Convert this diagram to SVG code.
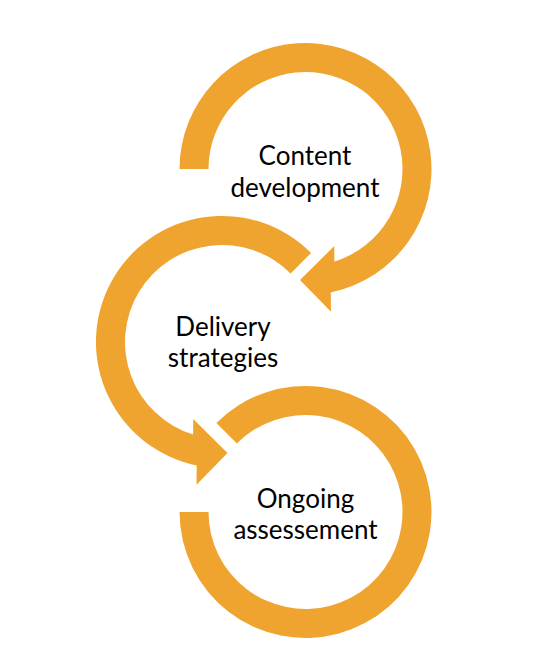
<svg xmlns="http://www.w3.org/2000/svg" width="534" height="670" viewBox="0 0 534 670">
<style>
.arrow{fill:#F0A430;stroke:none}
.label{font-family:Lato,"Liberation Sans",sans-serif;font-size:26px;fill:#000;text-anchor:middle}
</style>
<rect width="534" height="670" fill="#fff"/>
<g id="connectors">
<path id="arrow-content" class="arrow" d="M179.5 169 A126 126 0 1 1 330.8 292.4 L331 311.7 L300 280 L334.3 246 L334.35 261.6 A97 97 0 1 0 208.5 169 Z"/>
<path id="arrow-delivery" class="arrow" d="M311.1 252.9 A126 126 0 1 0 196.7 465.4 L196.5 484.7 L227.5 453 L193.2 419 L193.15 434.6 A97 97 0 1 1 290.6 273.4 Z"/>
<path id="arrow-assessment" class="arrow" d="M216.4 422.9 A126 126 0 1 1 179.5 512 L208.5 512 A97 97 0 1 0 236.9 443.4 Z"/>
</g>
<g id="node-content">
<text class="label" x="305" y="165">Content</text>
<text class="label" x="305" y="196.7">development</text>
</g>
<g id="node-delivery">
<text class="label" x="223" y="336">Delivery</text>
<text class="label" x="223" y="366.7">strategies</text>
</g>
<g id="node-assessment">
<text class="label" x="305.5" y="508">Ongoing</text>
<text class="label" x="305.5" y="539">assessement</text>
</g>
</svg>
